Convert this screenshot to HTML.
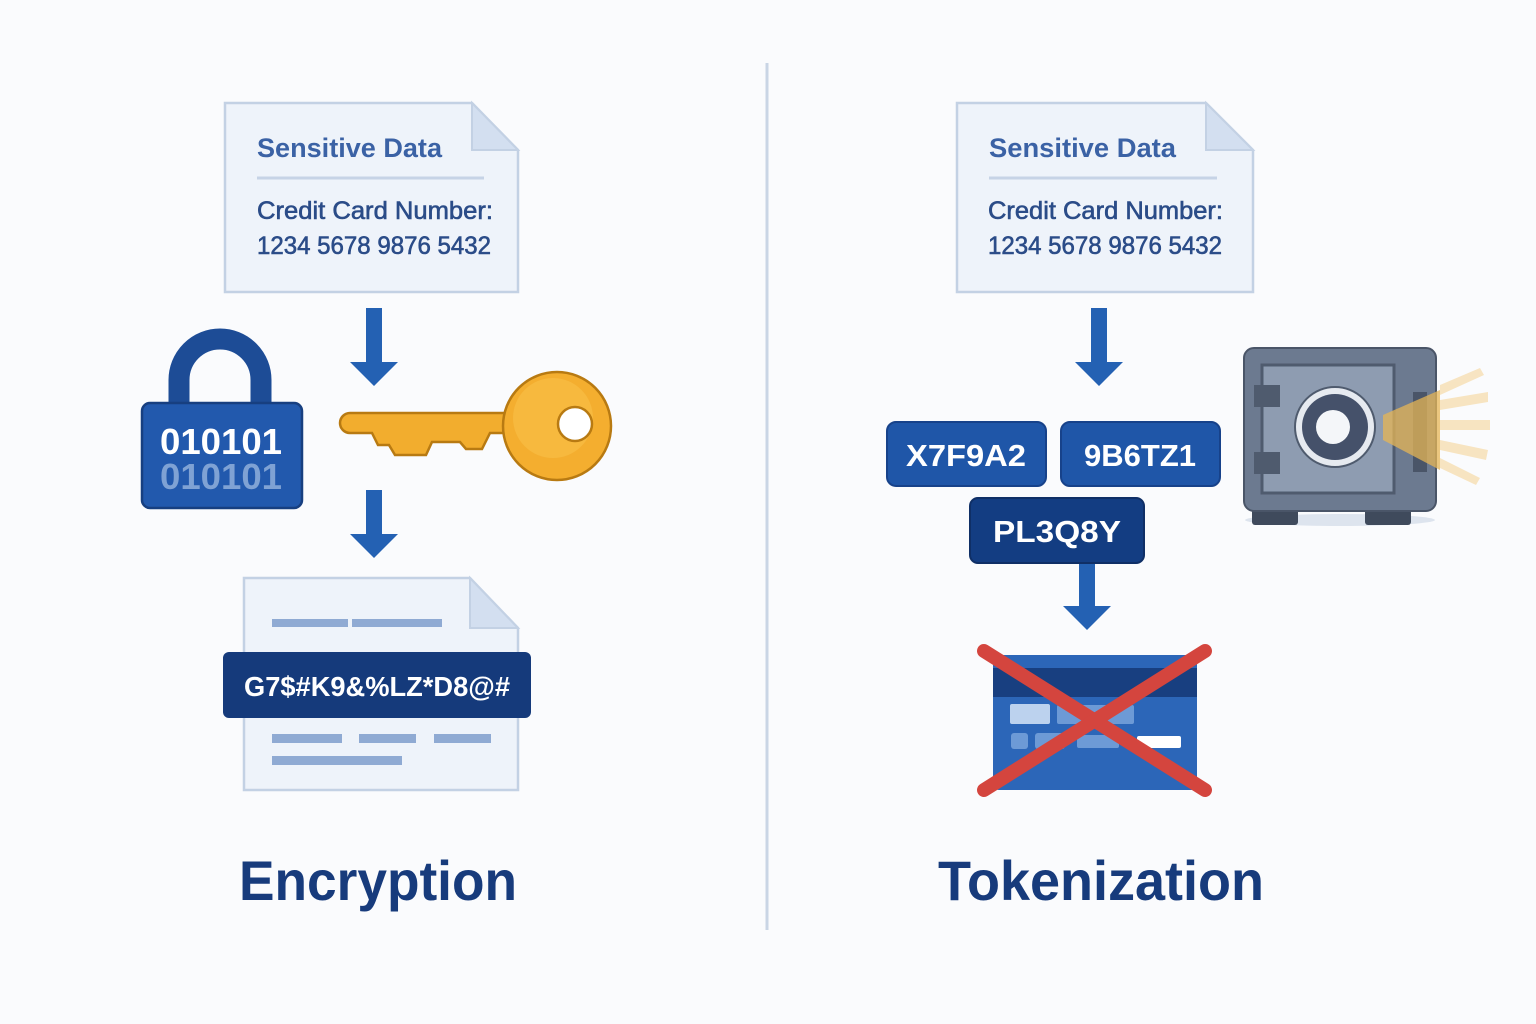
<!DOCTYPE html>
<html><head><meta charset="utf-8"><style>html,body{margin:0;padding:0;background:#fafbfd}svg{display:block}text{font-family:"Liberation Sans","DejaVu Sans",sans-serif}</style></head><body>
<svg width="1536" height="1024" viewBox="0 0 1536 1024" xmlns="http://www.w3.org/2000/svg">
<rect width="1536" height="1024" fill="#fafbfd"/>
<line x1="767" y1="63" x2="767" y2="930" stroke="#c9d5e5" stroke-width="3"/>

<path d="M225 103 H472 L518 150 V292 H225 Z" fill="#eef3fa" stroke="#c3d1e4" stroke-width="2.5"/>
<path d="M472 103 V150 H518 Z" fill="#d3dff0" stroke="#c3d1e4" stroke-width="2"/>
<text x="257" y="157" font-size="27" font-weight="bold" fill="#3b62a5" textLength="185" lengthAdjust="spacingAndGlyphs">Sensitive Data</text>
<line x1="257" y1="178" x2="484" y2="178" stroke="#c6d3e6" stroke-width="3"/>
<text x="257" y="219" font-size="25" fill="#2b4c88" stroke="#2b4c88" stroke-width="0.6" textLength="236" lengthAdjust="spacingAndGlyphs">Credit Card Number:</text>
<text x="257" y="254" font-size="25" fill="#2b4c88" stroke="#2b4c88" stroke-width="0.6" textLength="234" lengthAdjust="spacingAndGlyphs">1234 5678 9876 5432</text>

<path d="M957 103 H1206 L1253 150 V292 H957 Z" fill="#eef3fa" stroke="#c3d1e4" stroke-width="2.5"/>
<path d="M1206 103 V150 H1253 Z" fill="#d3dff0" stroke="#c3d1e4" stroke-width="2"/>
<text x="989" y="157" font-size="27" font-weight="bold" fill="#3b62a5" textLength="187" lengthAdjust="spacingAndGlyphs">Sensitive Data</text>
<line x1="989" y1="178" x2="1217" y2="178" stroke="#c6d3e6" stroke-width="3"/>
<text x="988" y="219" font-size="25" fill="#2b4c88" stroke="#2b4c88" stroke-width="0.6" textLength="235" lengthAdjust="spacingAndGlyphs">Credit Card Number:</text>
<text x="988" y="254" font-size="25" fill="#2b4c88" stroke="#2b4c88" stroke-width="0.6" textLength="234" lengthAdjust="spacingAndGlyphs">1234 5678 9876 5432</text>

<g fill="#2461b3">
<path d="M366 308 H382 V362 H398 L374 386 L350 362 H366 Z"/>
<path d="M366 490 H382 V534 H398 L374 558 L350 534 H366 Z"/>
<path d="M1091 308 H1107 V362 H1123 L1099 386 L1075 362 H1091 Z"/>
<path d="M1079 563 H1095 V606 H1111 L1087 630 L1063 606 H1079 Z"/>
</g>

<path d="M179 405 V380 A41 41 0 0 1 261 380 V405" fill="none" stroke="#1d4c96" stroke-width="21"/>
<rect x="142" y="403" width="160" height="105" rx="8" fill="#2259ad" stroke="#173f80" stroke-width="2.5"/>
<text x="221" y="454" font-size="36" font-weight="bold" fill="#fff" text-anchor="middle" textLength="122" lengthAdjust="spacingAndGlyphs">010101</text>
<text x="221" y="489" font-size="36" font-weight="bold" fill="#7fa2d4" text-anchor="middle" textLength="122" lengthAdjust="spacingAndGlyphs">010101</text>

<path d="M350 413 H515 V433 H490 L482 449 H466 L460 442 H432 L426 455 H395 L389 445 H378 L372 433 H350 A7 7 0 0 1 350 413 Z" fill="#f2ad2e" stroke="#b87a12" stroke-width="2.5"/>
<circle cx="557" cy="426" r="54" fill="#f4ae2f" stroke="#b87a12" stroke-width="2.5"/>
<circle cx="553" cy="418" r="40" fill="#f8c04a" opacity="0.6"/>
<circle cx="575" cy="424" r="17" fill="#fff" stroke="#b87a12" stroke-width="2.5"/>

<path d="M244 578 H470 L518 628 V790 H244 Z" fill="#eef3fa" stroke="#c3d1e4" stroke-width="2.5"/>
<path d="M470 578 V628 H518 Z" fill="#d3dff0" stroke="#c3d1e4" stroke-width="2"/>
<g fill="#8faad3">
<rect x="272" y="619" width="76" height="8"/><rect x="352" y="619" width="90" height="8"/>
<rect x="272" y="734" width="70" height="9"/><rect x="359" y="734" width="57" height="9"/><rect x="434" y="734" width="57" height="9"/>
<rect x="272" y="756" width="130" height="9"/>
</g>
<rect x="223" y="652" width="308" height="66" rx="6" fill="#153a7b"/>
<text x="377" y="696" font-size="28" font-weight="bold" fill="#fff" text-anchor="middle" textLength="266" lengthAdjust="spacingAndGlyphs">G7$#K9&amp;%LZ*D8@#</text>

<text x="378" y="900" font-size="56" font-weight="bold" fill="#173b7c" text-anchor="middle" textLength="278" lengthAdjust="spacingAndGlyphs">Encryption</text>
<text x="1101" y="900" font-size="56" font-weight="bold" fill="#173b7c" text-anchor="middle" textLength="326" lengthAdjust="spacingAndGlyphs">Tokenization</text>

<rect x="887" y="422" width="159" height="64" rx="9" fill="#1f56a8" stroke="#17428a" stroke-width="2"/>
<text x="966" y="466" font-size="31" font-weight="bold" fill="#fff" text-anchor="middle" textLength="120" lengthAdjust="spacingAndGlyphs">X7F9A2</text>
<rect x="1061" y="422" width="159" height="64" rx="9" fill="#1f56a8" stroke="#17428a" stroke-width="2"/>
<text x="1140" y="466" font-size="31" font-weight="bold" fill="#fff" text-anchor="middle" textLength="112" lengthAdjust="spacingAndGlyphs">9B6TZ1</text>
<rect x="970" y="498" width="174" height="65" rx="8" fill="#133d82" stroke="#0f2f66" stroke-width="2"/>
<text x="1057" y="542" font-size="31" font-weight="bold" fill="#fff" text-anchor="middle" textLength="128" lengthAdjust="spacingAndGlyphs">PL3Q8Y</text>

<ellipse cx="1340" cy="520" rx="95" ry="6" fill="#dde4ee"/>
<rect x="1252" y="505" width="46" height="20" rx="3" fill="#3f4a5c"/>
<rect x="1365" y="505" width="46" height="20" rx="3" fill="#3f4a5c"/>
<rect x="1244" y="348" width="192" height="163" rx="10" fill="#6c7a90" stroke="#4a5568" stroke-width="2"/>
<rect x="1413" y="392" width="14" height="80" fill="#4a5568"/>
<rect x="1262" y="365" width="132" height="128" fill="#8e9cb1" stroke="#4f5b6e" stroke-width="3"/>
<rect x="1254" y="385" width="26" height="22" fill="#4f5b6e"/>
<rect x="1254" y="452" width="26" height="22" fill="#4f5b6e"/>
<g fill="#f3c46a" opacity="0.4">
<path d="M1440 385 L1480 368 L1484 375 L1440 395 Z"/>
<path d="M1440 400 L1488 392 L1488 402 L1440 410 Z"/>
<path d="M1440 420 L1490 420 L1490 430 L1440 430 Z"/>
<path d="M1440 440 L1488 450 L1486 460 L1440 450 Z"/>
<path d="M1440 458 L1480 478 L1476 485 L1440 468 Z"/>
</g>
<path d="M1383 415 L1440 390 L1440 470 L1383 440 Z" fill="#e6b655" opacity="0.75"/>
<circle cx="1335" cy="427" r="40" fill="#e6eaf0" stroke="#4f5b6e" stroke-width="2"/>
<circle cx="1335" cy="427" r="33" fill="#45516a"/>
<circle cx="1333" cy="427" r="17" fill="#f4f6f9"/>

<rect x="993" y="655" width="204" height="135" rx="6" fill="#2c66b8"/>
<rect x="993" y="668" width="204" height="29" fill="#183f80"/>
<rect x="1010" y="704" width="40" height="20" rx="2" fill="#bcd2ee"/>
<rect x="1057" y="705" width="77" height="19" rx="2" fill="#6d9ad6"/>
<rect x="1011" y="733" width="17" height="16" rx="3" fill="#6d9ad6"/>
<rect x="1035" y="733" width="30" height="16" rx="3" fill="#6d9ad6"/>
<rect x="1077" y="735" width="42" height="13" rx="2" fill="#6d9ad6"/>
<rect x="1137" y="736" width="44" height="12" rx="2" fill="#fff"/>
<g stroke="#d4453e" stroke-width="14" stroke-linecap="round">
<line x1="984" y1="651" x2="1205" y2="790"/>
<line x1="1205" y1="651" x2="984" y2="790"/>
</g>
</svg>
</body></html>
